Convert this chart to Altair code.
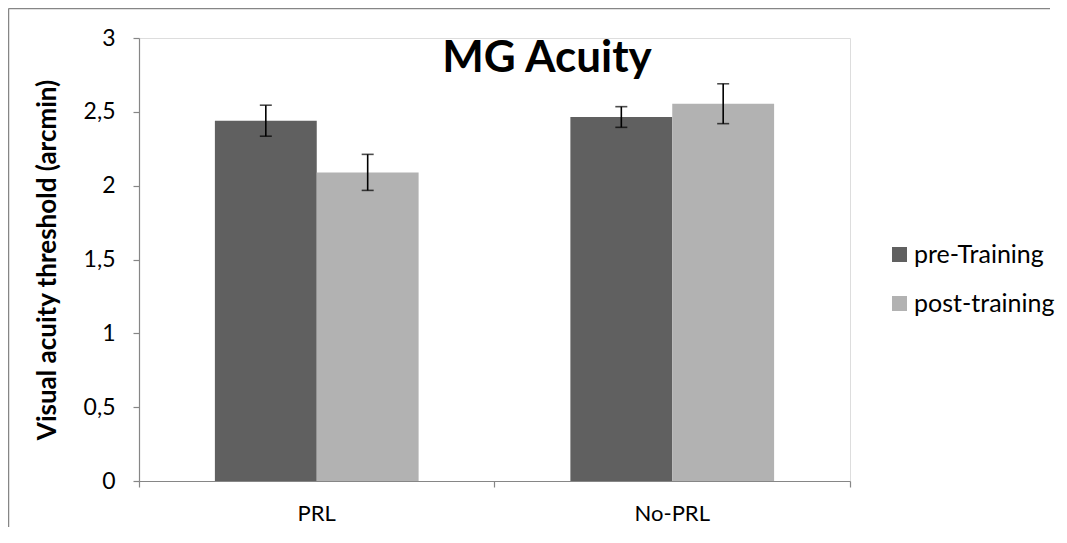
import altair as alt
import pandas as pd

groups = ["PRL", "No-PRL"]
series = ["pre-Training", "post-training"]
pre_values = [2.44, 2.465]
post_values = [2.09, 2.555]
pre_errors = [0.105, 0.07]
post_errors = [0.122, 0.135]
title_text = "MG Acuity"
y_title = "Visual acuity threshold (arcmin)"

rows = []
for i, g in enumerate(groups):
    rows.append({"group": g, "series": series[0], "value": pre_values[i], "err": pre_errors[i]})
    rows.append({"group": g, "series": series[1], "value": post_values[i], "err": post_errors[i]})
df = pd.DataFrame(rows)
df["lo"] = df["value"] - df["err"]
df["hi"] = df["value"] + df["err"]

FONT = "Lato"
W, H = 711, 443
PAD = {"left": 131, "top": 30, "right": 209, "bottom": 54}

x_enc = alt.X("group:N", sort=groups, title=None,
              scale=alt.Scale(paddingInner=0, paddingOuter=0),
              axis=alt.Axis(labelAngle=0, labelFont=FONT, labelFontSize=22, labelColor="#000000",
                            labelPadding=26, labelBaseline="middle",
                            domainColor="#868686", domainWidth=1.2,
                            tickColor="#868686", tickSize=6, tickWidth=1.2,
                            bandPosition=1, tickExtra=True))
xoff = alt.XOffset("series:N", sort=series,
                   scale=alt.Scale(paddingInner=0, paddingOuter=0.745))

base = alt.Chart(df)

bars = base.mark_bar().encode(
    x=x_enc,
    xOffset=xoff,
    y=alt.Y("value:Q", title=y_title,
            scale=alt.Scale(domain=[0, 3]),
            axis=alt.Axis(values=[0, 0.5, 1, 1.5, 2, 2.5, 3], grid=False,
                          labelExpr="replace(format(datum.value, ''), '.', ',')",
                          labelFont=FONT, labelFontSize=23, labelColor="#000000", labelPadding=18,
                          domainColor="#868686", domainWidth=1.2,
                          tickColor="#868686", tickSize=6, tickWidth=1.2,
                          titleFont=FONT, titleFontSize=26, titleFontWeight="bold", titleColor="#000000",
                          titleAngle=270, titleX=-92, titleY=H / 2, titleAlign="center",
                          titleBaseline="middle")),
    color=alt.Color("series:N", sort=series,
                    scale=alt.Scale(domain=series, range=["#606060", "#b2b2b2"]),
                    legend=alt.Legend(title=None, orient="none", legendX=748, legendY=204,
                                      symbolType="square", symbolSize=225, symbolStrokeWidth=0,
                                      labelFont=FONT, labelFontSize=25, labelColor="#000000",
                                      labelOffset=2, rowPadding=23, padding=0)),
)

rules = base.mark_rule(color="#000000", strokeWidth=1.6).encode(
    x=alt.X("group:N", sort=groups), xOffset=xoff,
    y=alt.Y("lo:Q"), y2="hi:Q",
)
caps_lo = base.mark_tick(color="#000000", orient="horizontal", size=12, thickness=1.6).encode(
    x=alt.X("group:N", sort=groups), xOffset=xoff, y="lo:Q")
caps_hi = base.mark_tick(color="#000000", orient="horizontal", size=12, thickness=1.6).encode(
    x=alt.X("group:N", sort=groups), xOffset=xoff, y="hi:Q")

title = alt.Chart(pd.DataFrame({"t": [title_text]})).mark_text(
    font=FONT, fontSize=44, fontWeight="bold", color="#000000", align="center", baseline="alphabetic"
).encode(x=alt.value(408), y=alt.value(34), text="t:N")

frame_df = pd.DataFrame({"b": [0]})
border_top = alt.Chart(frame_df).mark_rule(stroke="#868686", strokeWidth=1.5).encode(
    x=alt.value(-PAD["left"] + 0.5), x2=alt.value(W + 200), y=alt.value(-PAD["top"] + 0.5))
border_left = alt.Chart(frame_df).mark_rule(stroke="#868686", strokeWidth=1.5).encode(
    x=alt.value(-PAD["left"] + 0.5), y=alt.value(-PAD["top"] + 0.5), y2=alt.value(H + 46))

chart = alt.layer(border_top, border_left, bars, rules, caps_lo, caps_hi, title).properties(
    width=W, height=H,
    autosize=alt.AutoSizeParams(type="none"),
    padding=PAD,
).configure_view(stroke=None).configure(background="#ffffff")

chart.save("out.html", embed_options={"renderer": "svg", "actions": False})
